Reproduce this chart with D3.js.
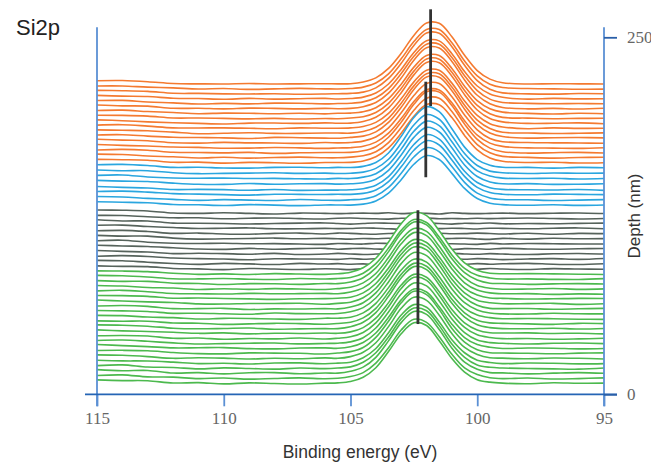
<!DOCTYPE html>
<html>
<head>
<meta charset="utf-8">
<script src="https://cdn.jsdelivr.net/npm/d3@7"></script>
<style>
  body { margin: 0; background: #fff; }
  svg { display: block; font-family: "Liberation Sans", Arial, sans-serif; }
</style>
</head>
<body>
<svg id="chart" width="651" height="465"></svg>
<script>
// binding energy grid (eV), shared by every spectrum
const energies = [115,114,113,112,111,110,109,108,107,106,105.5,105,104.5,104,103.5,103,102.5,102,101.5,101,100.5,100,99.5,99,98,97,96,95];

// depth of each spectrum (nm), bottom to top
const greenDepths  = [7.6,11.0,14.6,18.0,21.4,25.0,28.5,32.1,35.4,38.9,42.5,45.9,49.2,52.8,56.3,59.7,63.3,66.8,70.2,73.6,77.2,80.6,84.1];
const grayDepths   = [87.6,91.2,94.6,98.2,101.7,105.3,108.8,112.4,116.0,119.5,123.0,126.6];
const blueDepths   = [132.4,135.9,139.8,143.0,147.1,151.0,154.6,158.6];
const orangeDepths = [162.1,165.6,169.0,172.4,175.9,179.4,182.7,186.2,189.6,193.0,196.5,199.9,203.4,206.8,210.2,213.7,217.2];

// Si2p intensity (a.u.), one row per spectrum
const greenCounts = [
  [2.5,2.0,1.9,0.3,0.6,-0.3,0.4,0.0,-0.4,0.2,0.4,1.3,4.3,11.0,22.3,34.8,42.5,40.6,29.9,17.4,7.9,2.6,0.9,0.2,-0.2,0.5,0.1,0.2],
  [2.2,2.6,1.2,1.0,0.0,0.4,-0.4,0.1,0.5,-0.1,0.2,1.4,4.2,10.8,21.6,34.0,41.5,39.4,29.3,17.0,7.5,2.8,0.6,0.0,0.4,-0.3,0.0,0.5],
  [2.7,1.9,2.1,0.3,0.6,-0.3,0.5,0.6,-0.2,0.3,0.2,1.5,4.4,11.3,22.8,35.6,43.4,41.4,30.8,17.7,7.9,2.9,0.6,0.4,-0.3,0.2,0.6,0.1],
  [2.1,2.6,1.1,0.8,-0.2,0.5,0.1,-0.4,0.4,0.0,0.4,1.2,4.4,11.1,22.1,34.8,42.4,40.5,30.1,17.2,7.9,2.6,0.9,0.4,0.1,-0.2,-0.4,0.4],
  [2.4,2.0,1.9,1.1,0.1,0.3,-0.2,0.5,0.6,0.0,0.4,1.1,4.2,10.7,21.7,34.1,41.4,39.6,29.2,16.8,7.7,2.5,0.9,0.1,0.5,0.3,-0.1,0.1],
  [2.6,2.3,1.4,0.2,0.6,0.3,-0.3,0.2,-0.1,0.5,0.2,1.4,4.4,11.1,22.4,35.2,43.0,40.8,30.4,17.5,7.8,2.9,0.6,0.3,-0.1,0.4,0.2,-0.3],
  [2.2,2.3,2.0,0.8,0.0,-0.2,0.5,0.3,0.2,-0.3,0.4,1.4,4.3,11.4,22.7,35.6,43.6,41.3,30.8,17.6,8.1,2.7,0.6,0.4,0.2,-0.1,0.3,0.5],
  [2.8,2.0,1.3,0.4,0.5,0.6,-0.1,-0.3,0.3,0.4,0.1,1.2,4.2,10.8,21.8,34.0,41.6,39.5,29.2,17.0,7.6,2.7,0.9,0.0,0.3,0.2,-0.3,0.0],
  [2.3,2.6,1.7,0.6,-0.2,0.1,0.4,0.5,-0.1,0.2,0.4,1.3,4.2,11.0,22.2,34.8,42.5,40.5,30.0,17.3,7.8,2.6,0.8,0.3,-0.2,0.3,0.5,0.1],
  [2.1,2.3,1.9,0.3,0.5,-0.4,0.2,-0.1,0.5,-0.2,0.4,1.4,4.4,11.1,22.4,35.2,43.0,40.9,30.3,17.4,8.0,2.8,0.9,0.1,0.2,-0.3,-0.1,0.3],
  [2.6,1.9,1.5,0.9,0.2,0.5,-0.2,0.3,0.1,0.4,0.2,1.2,4.2,10.8,21.7,34.0,41.5,39.5,29.3,16.9,7.6,2.6,0.6,0.4,0.5,0.1,0.3,-0.2],
  [2.7,2.5,1.8,0.4,0.0,0.2,0.5,-0.3,-0.1,0.1,0.1,1.4,4.5,11.3,22.7,35.6,43.5,41.4,30.7,17.8,8.1,2.8,0.8,0.1,0.0,0.4,-0.2,0.2],
  [2.2,2.0,2.0,0.7,0.6,-0.2,0.1,0.5,0.3,-0.1,0.4,1.3,4.3,11.0,22.2,34.8,42.5,40.5,30.0,17.3,7.9,2.6,0.8,0.5,0.1,-0.2,0.5,0.3],
  [2.5,2.3,1.3,0.9,-0.1,0.4,0.3,-0.1,-0.3,0.5,0.5,1.2,4.2,10.9,21.9,34.2,41.8,39.8,29.5,17.0,7.6,2.8,0.9,0.1,0.3,0.1,-0.2,-0.3],
  [2.4,2.1,1.7,0.4,0.5,0.1,-0.2,0.6,0.2,0.1,0.3,1.5,4.4,11.1,22.4,35.2,43.0,40.8,30.3,17.5,7.9,2.8,0.6,0.0,-0.1,0.5,0.1,0.0],
  [2.1,2.5,1.9,0.3,0.3,0.5,-0.3,0.1,0.0,0.3,0.1,1.4,4.4,11.3,22.8,35.6,43.5,41.4,30.7,17.7,8.0,2.7,0.5,0.3,0.4,-0.1,0.2,0.5],
  [2.7,2.0,1.4,1.0,0.0,-0.1,0.3,0.3,0.5,-0.2,0.4,1.2,4.3,11.0,22.2,34.8,42.5,40.5,30.0,17.3,7.8,2.6,0.8,0.1,0.2,0.4,-0.3,0.1],
  [2.4,2.3,1.8,0.5,0.6,0.3,0.0,-0.3,0.1,0.2,0.5,1.2,4.2,10.8,21.7,34.0,41.5,39.5,29.3,16.9,7.6,2.7,0.6,0.4,-0.1,0.1,0.4,0.3],
  [2.2,2.6,1.6,0.4,0.2,0.0,0.5,0.2,0.3,0.5,0.2,1.4,4.3,11.1,22.4,35.2,43.0,40.9,30.3,17.6,7.9,2.8,0.8,0.2,0.3,-0.2,0.1,-0.1],
  [2.6,2.2,1.2,0.8,-0.2,0.3,-0.1,0.4,0.1,-0.2,0.4,1.3,4.4,11.0,22.2,34.8,42.5,40.5,30.0,17.3,7.9,2.6,0.7,0.0,0.1,0.5,-0.1,0.2],
  [2.4,1.9,1.9,0.6,0.4,-0.3,0.3,0.2,-0.2,0.4,0.3,1.4,4.4,11.3,22.7,35.6,43.5,41.4,30.7,17.7,8.0,2.8,0.6,0.4,-0.2,0.1,0.3,0.0],
  [2.7,2.4,1.5,0.3,0.2,0.5,0.0,-0.2,0.5,0.1,0.5,1.2,4.2,10.9,21.8,34.2,41.8,39.7,29.5,17.0,7.6,2.7,0.9,0.1,0.2,-0.1,-0.2,0.4],
  [2.3,2.2,1.8,0.7,-0.1,0.2,-0.2,0.4,0.1,-0.1,0.3,1.4,4.5,11.2,22.5,35.4,43.2,41.0,30.5,17.6,8.0,2.8,0.7,0.3,0.4,0.2,0.0,-0.2]
];

const grayCounts = [
  [2.3,2.0,1.8,0.5,0.2,-0.3,0.5,0.1,-0.2,0.3,0.1,-0.3,0.4,0.5,-0.1,0.2,0.5,0.0,-0.4,0.1,0.4,-0.1,0.5,0.1,-0.2,0.4,0.1,0.0],
  [2.6,2.3,1.3,0.4,-0.2,0.5,0.1,-0.3,0.5,0.0,0.3,-0.1,0.1,-0.3,0.4,0.6,0.0,0.1,0.4,-0.2,-0.3,0.3,-0.1,0.2,0.5,-0.1,-0.3,0.2],
  [2.1,2.5,1.9,0.8,0.4,0.1,-0.4,0.3,0.2,0.1,-0.1,0.5,0.0,0.3,0.2,-0.3,0.4,0.6,-0.1,0.2,0.0,0.4,0.1,-0.3,0.2,0.4,-0.1,0.5],
  [2.5,1.9,1.4,0.3,0.6,0.3,-0.1,0.5,-0.3,0.0,0.5,0.1,-0.3,0.0,0.5,0.3,0.1,-0.3,0.4,0.5,0.1,-0.1,0.3,0.0,-0.3,0.2,0.4,0.0],
  [2.7,2.2,1.8,0.9,0.0,-0.2,0.5,-0.1,0.3,0.5,-0.1,0.3,0.5,0.1,-0.3,0.0,0.4,0.2,-0.1,-0.4,0.3,0.2,-0.1,0.5,0.1,-0.1,0.2,0.4],
  [2.2,2.6,1.2,0.5,0.3,0.5,0.1,0.2,-0.1,-0.3,0.3,0.1,-0.1,0.5,0.3,0.1,-0.3,0.3,0.5,0.1,-0.1,-0.3,0.4,0.0,0.3,0.1,-0.1,0.0],
  [2.5,2.0,2.0,0.6,-0.1,0.1,0.3,0.6,0.1,0.4,0.1,-0.1,0.3,0.1,0.5,-0.1,0.2,-0.3,0.1,0.3,0.5,0.0,-0.3,0.4,-0.1,0.5,0.1,0.2],
  [2.1,2.4,1.6,0.3,0.5,-0.1,-0.3,0.3,0.5,-0.1,0.5,0.3,-0.1,-0.3,0.2,0.5,0.3,-0.1,0.4,0.0,0.1,0.5,0.2,-0.1,0.4,-0.3,0.3,0.1],
  [2.4,2.5,1.5,0.8,0.1,0.3,0.5,-0.1,-0.1,0.2,0.0,0.1,0.5,0.3,-0.1,-0.3,0.5,0.1,0.0,0.3,0.1,-0.2,0.3,0.2,-0.1,0.3,0.5,-0.1],
  [2.7,1.9,1.9,0.4,0.3,0.1,-0.2,0.1,0.4,0.5,0.1,-0.3,0.1,0.5,0.3,0.1,-0.1,0.4,0.1,-0.3,0.3,0.1,0.5,-0.1,0.1,-0.1,0.2,0.4],
  [2.3,2.2,1.3,0.6,0.6,-0.1,0.3,0.5,0.0,-0.2,0.3,0.5,0.1,-0.1,-0.3,0.3,0.1,0.5,-0.1,0.1,-0.1,0.3,0.0,0.2,0.5,0.1,-0.2,0.1],
  [2.5,2.3,1.8,0.4,0.1,0.5,0.1,-0.3,0.3,0.1,-0.1,0.1,0.3,0.1,0.5,-0.1,0.3,0.1,-0.3,0.5,0.1,-0.1,0.1,0.3,-0.1,0.2,0.4,0.0]
];

const blueCounts = [
  [2.4,2.1,1.7,0.5,0.3,-0.2,0.4,0.1,-0.3,0.2,0.2,0.1,0.8,3.0,8.5,17.9,28.7,34.8,32.0,22.3,11.8,4.7,1.4,0.4,0.0,0.3,-0.1,0.2],
  [2.6,2.3,1.3,0.6,-0.1,0.4,0.1,-0.2,0.5,0.0,-0.1,0.3,0.9,3.2,9.0,18.9,30.3,36.8,33.9,23.6,12.5,5.0,1.6,0.5,0.3,-0.2,0.1,0.4],
  [2.2,2.5,1.8,0.7,0.4,0.0,-0.3,0.3,0.2,0.1,0.3,0.2,0.9,3.3,9.2,19.5,31.1,37.8,34.8,24.2,12.8,5.1,1.5,0.3,-0.1,0.4,0.2,0.0],
  [2.5,1.9,1.5,0.4,0.5,0.3,-0.1,0.4,-0.2,0.0,0.0,0.2,1.0,3.4,9.4,20.0,31.9,38.8,35.7,24.9,13.2,5.3,1.7,0.5,0.2,0.1,0.4,-0.2],
  [2.7,2.2,1.9,0.8,0.0,-0.1,0.5,0.0,0.3,0.4,0.1,0.3,1.0,3.5,9.7,20.5,32.8,39.8,36.6,25.5,13.5,5.4,1.6,0.3,0.4,-0.1,0.0,0.3],
  [2.3,2.6,1.2,0.5,0.3,0.4,0.1,0.2,-0.1,-0.2,0.2,0.1,1.1,3.5,9.8,20.7,33.2,40.3,37.1,25.8,13.7,5.5,1.8,0.4,0.1,0.3,-0.2,0.1],
  [2.5,2.0,2.0,0.6,-0.1,0.1,0.3,0.5,0.1,0.3,0.0,0.2,1.0,3.6,10.0,21.2,34.0,41.3,38.0,26.5,14.0,5.6,1.7,0.6,0.0,0.4,0.2,0.3],
  [2.2,2.4,1.6,0.3,0.4,-0.1,-0.2,0.3,0.4,0.0,0.3,0.2,1.0,3.7,10.4,22.0,35.2,42.8,39.3,27.4,14.5,5.8,1.8,0.4,0.3,-0.2,0.3,0.1]
];

const orangeCounts = [
  [2.4,2.2,1.8,0.4,0.5,-0.2,0.3,0.1,-0.3,0.2,0.2,0.3,1.3,4.2,10.5,20.7,32.6,40.8,40.7,31.7,19.2,9.1,3.4,1.1,0.2,0.4,-0.1,0.1],
  [2.6,2.3,1.3,0.7,-0.1,0.4,-0.2,0.2,0.5,0.0,0.0,0.5,1.4,4.3,10.7,21.2,33.3,41.8,41.7,32.5,19.7,9.3,3.5,1.0,0.3,-0.2,0.2,0.4],
  [2.1,2.5,1.9,0.5,0.3,0.1,0.4,-0.3,0.1,0.3,0.3,0.4,1.5,4.4,11.0,21.6,34.1,42.8,42.6,33.2,20.2,9.5,3.4,0.9,-0.1,0.2,0.4,0.0],
  [2.5,1.9,1.5,0.8,0.5,-0.1,0.0,0.4,0.2,-0.2,0.1,0.3,1.3,4.2,10.5,20.7,32.6,40.8,40.7,31.7,19.2,9.1,3.5,1.2,0.2,0.0,-0.2,0.3],
  [2.7,2.1,1.7,0.3,0.0,0.5,0.2,0.1,-0.2,0.4,0.2,0.4,1.4,4.3,10.7,21.2,33.3,41.8,41.7,32.5,19.7,9.3,3.3,1.0,0.4,0.2,0.1,-0.1],
  [2.2,2.4,1.4,0.6,0.4,0.2,-0.3,0.5,0.3,0.0,-0.1,0.5,1.4,4.4,11.0,21.6,34.1,42.8,42.6,33.2,20.2,9.5,3.6,1.1,0.0,0.3,0.4,0.2],
  [2.5,2.2,1.9,0.9,-0.2,0.1,0.5,0.0,0.0,0.3,0.3,0.2,1.3,4.3,10.7,21.2,33.3,41.8,41.7,32.5,19.7,9.3,3.4,0.8,0.3,-0.1,0.1,0.4],
  [2.3,2.6,1.6,0.4,0.3,0.4,0.1,-0.2,0.4,0.1,0.1,0.4,1.3,4.2,10.5,20.7,32.6,40.8,40.7,31.7,19.2,9.1,3.3,1.0,-0.2,0.4,0.0,0.1],
  [2.6,2.0,1.2,0.6,0.1,-0.3,0.3,0.4,0.1,0.5,0.2,0.3,1.4,4.4,11.0,21.6,34.1,42.8,42.6,33.2,20.2,9.5,3.5,1.2,0.1,0.2,0.5,-0.1],
  [2.4,2.3,1.8,0.5,0.5,0.2,-0.1,0.2,-0.2,0.1,0.0,0.5,1.4,4.3,10.7,21.2,33.3,41.8,41.7,32.5,19.7,9.3,3.4,0.9,0.4,0.0,0.2,0.3],
  [2.2,2.5,1.5,0.8,0.0,0.4,0.3,0.0,0.3,-0.1,0.3,0.4,1.3,4.2,10.5,20.7,32.6,40.8,40.7,31.7,19.2,9.1,3.4,1.1,0.2,-0.2,0.3,0.0],
  [2.7,2.1,1.9,0.4,0.4,0.0,0.5,0.3,0.0,0.3,0.1,0.3,1.5,4.4,11.0,21.6,34.1,42.8,42.6,33.2,20.2,9.5,3.6,1.0,0.0,0.3,-0.1,0.4],
  [2.3,2.4,1.3,0.7,-0.1,0.3,0.0,0.5,0.4,0.0,0.2,0.4,1.4,4.3,10.7,21.2,33.3,41.8,41.7,32.5,19.7,9.3,3.3,1.0,0.3,0.1,0.2,0.1],
  [2.5,2.0,1.7,0.5,0.3,-0.2,0.4,-0.1,0.2,0.4,0.0,0.3,1.3,4.2,10.5,20.7,32.6,40.8,40.7,31.7,19.2,9.1,3.5,1.2,-0.1,0.4,0.1,0.2],
  [2.6,2.4,1.9,0.6,0.5,0.2,0.1,0.3,-0.1,0.1,0.3,0.5,1.4,4.4,11.0,21.6,34.1,42.8,42.6,33.2,20.2,9.5,3.4,0.9,0.2,0.0,0.4,0.3],
  [2.2,2.2,1.4,0.9,0.1,0.4,-0.2,0.2,0.5,0.2,0.1,0.4,1.4,4.3,10.7,21.2,33.3,41.8,41.7,32.5,19.7,9.3,3.4,1.1,0.4,0.2,-0.1,0.0],
  [2.4,2.5,1.7,0.4,0.2,0.1,0.4,0.1,0.2,0.3,0.2,0.3,1.5,4.4,11.0,21.6,34.1,42.8,42.6,33.2,20.2,9.5,3.5,1.0,0.1,0.3,0.2,0.1]
];

// peak-position markers: energy (eV) and the depth span (nm) they cover
const markerEnergy = [102.34, 102.03, 101.84];
const markerFrom   = [49.2, 152.0, 201.9];
const markerTo     = [128.9, 218.9, 269.6];

const xTicks = [115, 110, 105, 100, 95];
const depthTicks = [0, 250];

const svg = d3.select("#chart");

const x = d3.scaleLinear().domain([115, 95]).range([97, 604]);
const y = d3.scaleLinear().domain([0, 250]).range([394.3, 37.3]);

const groups = [
    { depths: greenDepths,  counts: greenCounts,  color: "#4cb94e" },
    { depths: grayDepths,   counts: grayCounts,   color: "#56635b" },
    { depths: blueDepths,   counts: blueCounts,   color: "#2aa6df" },
    { depths: orangeDepths, counts: orangeCounts, color: "#f47a30" }
];

// flatten and draw from the deepest (back) to the shallowest (front)
let traces = [];
groups.forEach(g => g.depths.forEach((dep, i) => {
    traces.push({ depth: dep, values: g.counts[i], color: g.color });
}));
traces.sort((a, b) => b.depth - a.depth);

const plot = svg.append("g");

traces.forEach(t => {
    const area = d3.area()
        .x((v, i) => x(energies[i]))
        .y0(y(0))
        .y1(v => y(t.depth + v))
        .curve(d3.curveCatmullRom);
    const line = d3.line()
        .x((v, i) => x(energies[i]))
        .y(v => y(t.depth + v))
        .curve(d3.curveCatmullRom);

    plot.append("path")
        .attr("d", area(t.values))
        .attr("fill", "#fff");
    plot.append("path")
        .attr("d", line(t.values))
        .attr("fill", "none")
        .attr("stroke", t.color)
        .attr("stroke-width", 1.6);
});

// peak markers
svg.append("g")
    .selectAll("line")
    .data(markerEnergy)
    .enter().append("line")
    .attr("x1", d => x(d)).attr("x2", d => x(d))
    .attr("y1", (d, i) => y(markerFrom[i]))
    .attr("y2", (d, i) => y(markerTo[i]))
    .attr("stroke", "#333")
    .attr("stroke-width", 2.8);

// frame lines
const frame = svg.append("g");
frame.append("line")
    .attr("x1", x(115)).attr("x2", x(115))
    .attr("y1", y(257)).attr("y2", y(0) + 12)
    .attr("stroke", "#5b90d4").attr("stroke-width", 1.8);
frame.append("line")
    .attr("x1", x(95)).attr("x2", x(95))
    .attr("y1", y(257)).attr("y2", y(0) + 12)
    .attr("stroke", "#5b90d4").attr("stroke-width", 1.8);

// x axis
const xAxis = svg.append("g")
    .attr("transform", `translate(0,${y(0)})`)
    .call(d3.axisBottom(x).tickValues(xTicks).tickSize(12).tickPadding(6).tickFormat(d3.format("d")));
xAxis.select(".domain").remove();
xAxis.selectAll(".tick line").attr("stroke", "#5b90d4").attr("stroke-width", 1.8);
xAxis.selectAll(".tick text")
    .attr("fill", "#666")
    .style("font-family", "'Liberation Serif', 'DejaVu Serif', serif")
    .style("font-size", "17px");

svg.append("line")
    .attr("x1", x(115) - 12).attr("x2", x(95) + 13)
    .attr("y1", y(0)).attr("y2", y(0))
    .attr("stroke", "#2565b5").attr("stroke-width", 1.8);

// depth axis on the right
const yAxis = svg.append("g")
    .attr("transform", `translate(${x(95)},0)`)
    .call(d3.axisRight(y).tickValues(depthTicks).tickSize(13).tickPadding(10));
yAxis.select(".domain").remove();
yAxis.selectAll(".tick line").attr("stroke", "#2a5fa8").attr("stroke-width", 1.8);
yAxis.selectAll(".tick text")
    .attr("fill", "#666")
    .style("font-family", "'Liberation Serif', 'DejaVu Serif', serif")
    .style("font-size", "17px");

// labels
svg.append("text")
    .attr("x", 360).attr("y", 457.5)
    .attr("text-anchor", "middle")
    .attr("font-size", 17.5)
    .attr("fill", "#333")
    .text("Binding energy (eV)");

svg.append("text")
    .attr("transform", "translate(640,216) rotate(-90)")
    .attr("text-anchor", "middle")
    .attr("font-size", 17)
    .attr("fill", "#333")
    .text("Depth (nm)");

svg.append("text")
    .attr("x", 16).attr("y", 35)
    .attr("font-size", 22)
    .attr("fill", "#222")
    .text("Si2p");
</script>
</body>
</html>
